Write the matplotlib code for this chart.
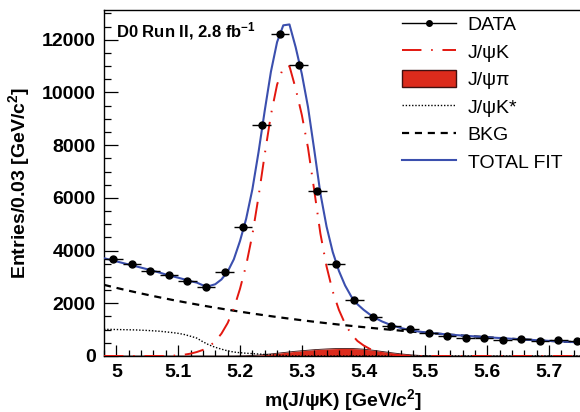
import numpy as np
import matplotlib
matplotlib.use("Agg")
import matplotlib.pyplot as plt
from matplotlib.lines import Line2D
from matplotlib.patches import Patch

plt.rcParams['font.family'] = ['Liberation Sans', 'DejaVu Sans']
plt.rcParams['mathtext.fontset'] = 'custom'
plt.rcParams['mathtext.rm'] = 'Liberation Sans:bold'
plt.rcParams['mathtext.bf'] = 'Liberation Sans:bold'
plt.rcParams['mathtext.it'] = 'Liberation Sans:bold'

# data points: bin centres (0.03 GeV bins starting at 4.98) and counts
bin_centres = np.round(4.995 + 0.03 * np.arange(26), 3)
data_counts = [3681, 3491, 3237, 3074, 2858, 2607, 3188, 4907, 8767, 12220,
               11033, 6274, 3491, 2125, 1468, 1150, 1036, 884, 770, 683,
               695, 594, 633, 557, 594, 557]

# fit components sampled every 0.01 GeV from 4.98 to 5.75
x_fit = np.round(np.arange(78) * 0.01 + 4.98, 2)

bkg = [2700, 2643, 2586, 2531, 2478, 2425, 2373, 2323, 2273, 2225,
       2178, 2131, 2086, 2042, 1998, 1956, 1914, 1873, 1834, 1795,
       1756, 1719, 1683, 1647, 1612, 1578, 1544, 1511, 1479, 1448,
       1417, 1387, 1357, 1328, 1300, 1272, 1245, 1219, 1193, 1168,
       1143, 1118, 1095, 1071, 1049, 1026, 1004, 983, 962, 942,
       922, 902, 883, 864, 846, 828, 810, 793, 776, 760,
       743, 728, 712, 697, 682, 668, 653, 639, 626, 613,
       600, 587, 574, 562, 550, 538, 527, 516]

jpsi_kstar = [1010, 1010, 1005, 1000, 995, 990, 980, 970, 955, 940,
              915, 890, 860, 815, 750, 680, 540, 420, 330, 260,
              195, 150, 125, 105, 90, 75, 60, 45, 30, 20,
              10, 5] + [0] * 46

jpsi_k = [0] * 11 + [10, 25, 50, 90, 150, 230, 360, 560, 850, 1250,
                     1800, 2550, 3450, 4600, 6050, 7650, 9150, 10300, 10950, 11000,
                     10150, 9150, 7900, 6300, 4650, 3400, 2450, 1750, 1220, 830,
                     570, 400, 270, 175, 110, 70, 40, 20, 10] + [0] * 28

jpsi_pi = [0] * 22 + [5, 10, 20, 35, 55, 80, 105, 130, 155, 180,
                      200, 220, 240, 255, 268, 278, 285, 288, 285, 275,
                      258, 235, 205, 172, 140, 110, 82, 58, 38, 23,
                      13, 7, 3, 1] + [0] * 22

total_fit = np.array(bkg) + np.array(jpsi_kstar) + np.array(jpsi_k) + np.array(jpsi_pi)

red = '#e3170f'
fill_red = '#dc2b1c'
blue = '#3b4fae'

fig = plt.figure(figsize=(5.8, 4.12), dpi=100)
ax = fig.add_axes([104 / 580, 1 - 356 / 412, 1 - 104 / 580, 346 / 412])

ax.fill_between(x_fit, 0, jpsi_pi, color=fill_red, lw=0, zorder=1)
ax.plot(x_fit, jpsi_pi, color='#401010', lw=0.6, zorder=1.5)
ax.plot(x_fit, jpsi_kstar, color='k', lw=1.0, linestyle=(0, (1, 1.3)), zorder=2)
ax.plot(x_fit, bkg, color='k', lw=1.6, linestyle=(0, (3.2, 2.6)), zorder=2)
ax.plot(x_fit, jpsi_k, color=red, lw=1.4, linestyle=(0, (10, 5, 0.8, 5)), zorder=3)
ax.plot(x_fit, total_fit, color=blue, lw=1.5, zorder=4, solid_joinstyle='round')
ax.errorbar(bin_centres, data_counts, xerr=0.015, fmt='o', color='k',
            ms=5, elinewidth=1.0, capsize=0, zorder=5)

ax.set_xlim(4.98, 5.75)
ax.set_ylim(0, 13130)
ax.set_xticks(np.round(np.arange(5.0, 5.75, 0.1), 1))
ax.set_xticks(np.round(np.arange(4.98, 5.751, 0.02), 2), minor=True)
ax.set_yticks(np.arange(0, 12001, 2000))
ax.set_yticks(np.arange(0, 13001, 500), minor=True)
ax.set_xticklabels(['5', '5.1', '5.2', '5.3', '5.4', '5.5', '5.6', '5.7'])

ax.tick_params(axis='both', which='both', direction='in', width=0.9, labelsize=14)
ax.tick_params(axis='y', which='major', length=10, pad=6)
ax.tick_params(axis='y', which='minor', length=5)
ax.tick_params(axis='x', which='major', length=8, pad=6)
ax.tick_params(axis='x', which='minor', length=4)
for lab in ax.get_xticklabels() + ax.get_yticklabels():
    lab.set_fontweight('bold')

ax.spines['right'].set_visible(False)
for s in ['left', 'bottom', 'top']:
    ax.spines[s].set_linewidth(1.0)

fig.text(19 / 580, 1 - 183 / 412, 'Entries/0.03 [GeV/c$^{2}$]', rotation=90,
         ha='center', va='center', fontsize=14, fontweight='bold')
fig.text(343 / 580, 1 - 400 / 412, 'm(J/ψK) [GeV/c$^{2}$]',
         ha='center', va='center', fontsize=14, fontweight='bold')
fig.text(116 / 580, 1 - 37 / 412, 'D0 Run II, 2.8 fb$^{-1}$',
         ha='left', va='baseline', fontsize=12, fontweight='bold')

handles = [
    Line2D([], [], color='k', lw=1.0, marker='o', ms=4),
    Line2D([], [], color=red, lw=1.4, linestyle=(0, (10, 5, 0.8, 5))),
    Patch(facecolor=fill_red, edgecolor='#401010', lw=1.0),
    Line2D([], [], color='k', lw=1.0, linestyle=(0, (1, 1.3))),
    Line2D([], [], color='k', lw=1.6, linestyle=(0, (3.2, 2.6))),
    Line2D([], [], color=blue, lw=1.5),
]
labels = ['DATA', 'J/ψK', 'J/ψπ', 'J/ψK*', 'BKG', 'TOTAL FIT']
fig.legend(handles, labels, loc='upper left',
           bbox_to_anchor=(402 / 580, 1 - 15 / 412), frameon=False,
           fontsize=14, handlelength=2.8, handleheight=1.0,
           handletextpad=0.57, labelspacing=0.42, borderpad=0, borderaxespad=0)

fig.savefig('out.png', dpi=100)
